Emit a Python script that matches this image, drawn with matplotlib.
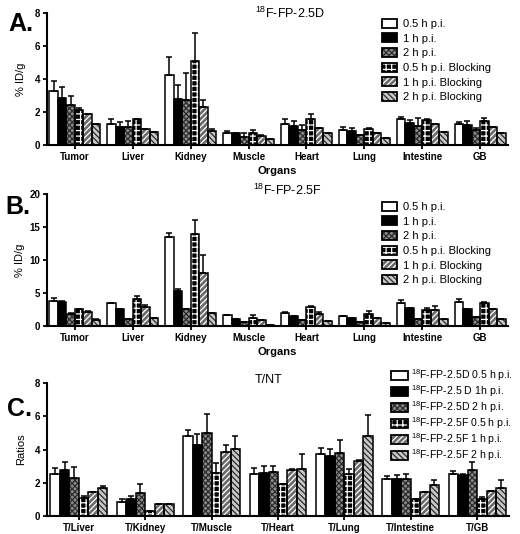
import numpy as np
import matplotlib
matplotlib.use('Agg')
import matplotlib.pyplot as plt
from matplotlib.patches import Patch

plt.rcParams['font.family'] = ['Liberation Sans', 'DejaVu Sans']
plt.rcParams['mathtext.default'] = 'regular'
plt.rcParams['hatch.linewidth'] = 0.9

# --- data ---
organs = ['Tumor', 'Liver', 'Kidney', 'Muscle', 'Heart', 'Lung', 'Intestine', 'GB']
groups = ['0.5 h p.i.', '1 h p.i.', '2 h p.i.',
          '0.5 h p.i. Blocking', '1 h p.i. Blocking', '2 h p.i. Blocking']

# 18F-FP-2.5D (% ID/g), mean and upper SD
d_mean = [
    [3.3, 1.3, 4.25, 0.7, 1.3, 0.9, 1.55, 1.3],
    [2.85, 1.1, 2.8, 0.7, 1.15, 0.85, 1.35, 1.2],
    [2.4, 1.1, 2.7, 0.5, 0.9, 0.62, 1.15, 0.9],
    [2.1, 1.55, 5.1, 0.75, 1.6, 1.0, 1.5, 1.45],
    [1.85, 0.95, 2.3, 0.55, 1.05, 0.7, 1.3, 1.1],
    [1.25, 0.8, 0.85, 0.35, 0.75, 0.45, 0.8, 0.72],
]
d_err = [
    [0.6, 0.25, 1.1, 0.15, 0.27, 0.2, 0.15, 0.12],
    [0.65, 0.3, 0.85, 0.05, 0.28, 0.2, 0.17, 0.23],
    [0.6, 0.35, 1.65, 0.2, 0.3, 0.0, 0.5, 0.15],
    [0.15, 0.0, 1.7, 0.15, 0.27, 0.06, 0.1, 0.2],
    [0.05, 0.05, 0.4, 0.05, 0.0, 0.0, 0.0, 0.0],
    [0.05, 0.0, 0.1, 0.0, 0.0, 0.0, 0.0, 0.0],
]

# 18F-FP-2.5F (% ID/g)
f_mean = [
    [3.8, 3.5, 13.5, 1.6, 2.0, 1.5, 3.5, 3.7],
    [3.7, 2.6, 5.3, 1.05, 1.5, 1.2, 2.7, 2.6],
    [1.85, 1.1, 2.6, 0.55, 0.9, 0.6, 1.0, 1.4],
    [2.55, 4.15, 13.9, 1.25, 2.85, 1.85, 2.4, 3.5],
    [2.05, 2.85, 8.0, 0.85, 1.8, 1.25, 2.4, 2.6],
    [0.95, 1.15, 1.9, 0.2, 0.8, 0.45, 1.0, 1.0],
]
f_err = [
    [0.5, 0.0, 0.6, 0.0, 0.1, 0.0, 0.5, 0.4],
    [0.05, 0.0, 0.3, 0.0, 0.0, 0.0, 0.0, 0.0],
    [0.1, 0.0, 0.0, 0.0, 0.0, 0.0, 0.0, 0.0],
    [0.0, 0.45, 2.2, 0.35, 0.2, 0.35, 0.4, 0.1],
    [0.25, 0.35, 2.8, 0.0, 0.3, 0.0, 0.6, 0.0],
    [0.05, 0.0, 0.1, 0.0, 0.0, 0.0, 0.0, 0.0],
]

# T/NT ratios
ratios = ['T/Liver', 'T/Kidney', 'T/Muscle', 'T/Heart', 'T/Lung', 'T/Intestine', 'T/GB']
r_groups = ['$^{18}$F-FP-2.5D 0.5 h p.i.', '$^{18}$F-FP-2.5 D 1h p.i.',
            '$^{18}$F-FP-2.5D 2 h p.i.', '$^{18}$F-FP-2.5F 0.5 h p.i.',
            '$^{18}$F-FP-2.5F 1 h p.i.', '$^{18}$F-FP-2.5F 2 h p.i.']
r_mean = [
    [2.55, 0.85, 4.8, 2.55, 3.75, 2.2, 2.55],
    [2.75, 1.05, 4.25, 2.6, 3.6, 2.25, 2.45],
    [2.3, 1.4, 5.0, 2.65, 3.8, 2.2, 2.75],
    [1.1, 0.28, 2.6, 1.9, 2.55, 1.05, 1.05],
    [1.45, 0.7, 3.85, 2.75, 3.3, 1.45, 1.5],
    [1.7, 0.7, 4.05, 2.85, 4.8, 1.85, 1.7],
]
r_err = [
    [0.35, 0.15, 0.4, 0.35, 0.35, 0.2, 0.15],
    [0.5, 0.15, 0.7, 0.4, 0.45, 0.2, 0.1],
    [0.65, 0.55, 1.15, 0.35, 0.75, 0.35, 0.5],
    [0.1, 0.0, 0.6, 0.0, 0.25, 0.0, 0.1],
    [0.0, 0.05, 0.45, 0.1, 0.05, 0.0, 0.0],
    [0.12, 0.0, 0.75, 0.85, 1.3, 0.3, 0.45],
]

# fill colour, hatch, hatch colour for the six series
styles = [
    ('white', '', 'white'),
    ('black', '', 'black'),
    ('#8c8c8c', 'xxxxxx', '#2a2a2a'),
    ('black', '+++', 'white'),
    ('#6a6a6a', '//////', 'white'),
    ('#c8c8c8', '\\\\\\\\\\\\', '#2a2a2a'),
]

W, H = 520, 534
fig = plt.figure(figsize=(W / 100, H / 100), dpi=100)


def px_axes(left, top, right, bottom):
    return fig.add_axes([left / W, 1 - bottom / H, (right - left) / W, (bottom - top) / H])


def draw_bars(ax, cats, means, errs, width):
    x = np.arange(len(cats))
    for i, (m, e) in enumerate(zip(means, errs)):
        fc, hatch, hc = styles[i]
        pos = x + (i - 2.5) * width
        ax.bar(pos, m, width, color=fc, edgecolor=hc, linewidth=0, hatch=hatch, zorder=2)
        ax.bar(pos, m, width, fill=False, edgecolor='black', linewidth=1.1, zorder=3)
        ax.errorbar(pos, m, yerr=[np.zeros(len(e)), e], fmt='none', ecolor='black',
                    elinewidth=1.1, capsize=2.2, capthick=1.1, zorder=4)
    ax.set_xticks(x)
    ax.set_xticklabels(cats, fontsize=8, fontweight='bold')
    ax.set_xlim(-0.48, len(cats) - 0.52)
    for s in ['top', 'right']:
        ax.spines[s].set_visible(False)
    for s in ['left', 'bottom']:
        ax.spines[s].set_linewidth(1.5)
    ax.tick_params(axis='both', width=1.3, length=3, labelsize=7, pad=2)
    for t in ax.get_yticklabels():
        t.set_fontweight('bold')


def make_handles():
    hs = []
    for fc, hatch, hc in styles:
        fill = Patch(facecolor=fc, edgecolor=hc, hatch=hatch, linewidth=0)
        edge = Patch(fill=False, edgecolor='black', linewidth=1.3)
        hs.append((fill, edge))
    return hs


# ---- panel A ----
axA = px_axes(47, 13, 508, 145)
draw_bars(axA, organs, d_mean, d_err, 0.147)
axA.set_ylim(0, 8)
axA.set_yticks([0, 2, 4, 6, 8])
axA.set_ylabel('% ID/g', fontsize=8, labelpad=6)
axA.set_xlabel('Organs', fontsize=8, fontweight='bold', labelpad=3)
fig.text(290 / W, 1 - 13 / H, '$^{18}$F-FP-2.5D', fontsize=9, ha='center', va='center')
fig.text(8 / W, 1 - 24 / H, 'A.', fontsize=18, fontweight='bold', va='center')

# ---- panel B ----
axB = px_axes(47, 194, 508, 326)
draw_bars(axB, organs, f_mean, f_err, 0.147)
axB.set_ylim(0, 20)
axB.set_yticks([0, 5, 10, 15, 20])
axB.set_ylabel('% ID/g', fontsize=8, labelpad=3)
axB.set_xlabel('Organs', fontsize=8, fontweight='bold', labelpad=3)
fig.text(287 / W, 1 - 190 / H, '$^{18}$F-FP-2.5F', fontsize=9, ha='center', va='center')
fig.text(5 / W, 1 - 207 / H, 'B.', fontsize=18, fontweight='bold', va='center')

# ---- panel C ----
axC = px_axes(47, 383, 509, 516)
draw_bars(axC, ratios, r_mean, r_err, 0.143)
axC.set_ylim(0, 8)
axC.set_yticks([0, 2, 4, 6, 8])
axC.set_ylabel('Ratios', fontsize=8, labelpad=6)
fig.text(255 / W, 1 - 380 / H, 'T/NT', fontsize=9, ha='left', va='center')
fig.text(7 / W, 1 - 409 / H, 'C.', fontsize=18, fontweight='bold', va='center')

# ---- legends ----
leg_kw = dict(loc='upper left', frameon=False, fontsize=8, handlelength=1.4, handleheight=0.9,
              handletextpad=0.5, labelspacing=0.38, borderpad=0)
fig.legend(make_handles(), groups, bbox_to_anchor=(376 / W, 1 - 13 / H), **leg_kw)
fig.legend(make_handles(), groups, bbox_to_anchor=(376 / W, 1 - 196 / H), **leg_kw)
fig.legend(make_handles(), r_groups, bbox_to_anchor=(386 / W, 1 - 362 / H),
           loc='upper left', frameon=False, fontsize=7.6, handlelength=1.55, handleheight=1.05,
           handletextpad=0.35, labelspacing=0.02, borderpad=0)

fig.savefig('out.png', dpi=100)
